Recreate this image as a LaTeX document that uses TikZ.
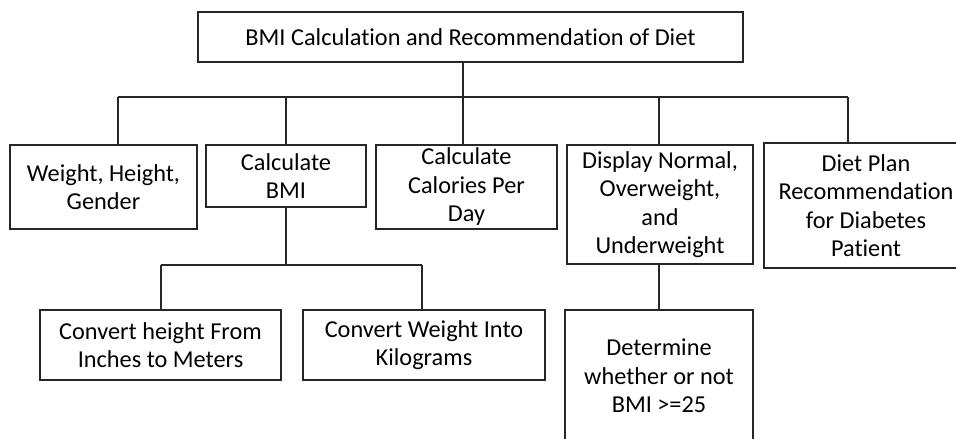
\documentclass[tikz,border=0pt]{standalone}
\usepackage{fontspec}
\setmainfont{Carlito}[Ligatures={NoCommon,NoContextual}]
\begin{document}
\begin{tikzpicture}[x=1pt,y=-1pt,
  box/.style={draw=black!85, line width=1.6pt, inner sep=0pt, align=center,
    font=\fontsize{24.3}{28.5}\selectfont, text=black},
  openbox/.style={box, draw=none},
  link/.style={draw=black!85, line width=1.6pt}]
\useasboundingbox (0,0) rectangle (956,439);
\node[box, minimum width=545pt, minimum height=50pt] (top) at (470.5,37) {BMI Calculation and Recommendation of Diet};
\node[box, minimum width=187pt, minimum height=84pt] (b1) at (103.5,187) {Weight, Height,\\Gender};
\node[box, minimum width=160pt, minimum height=62pt] (b2) at (286,176) {Calculate\\BMI};
\node[box, minimum width=181pt, minimum height=84pt] (b3) at (466.5,187) {Calculate\\Calories Per\\Day};
\node[box, minimum width=186pt, minimum height=119pt] (b4) at (660,204.5) {Display Normal,\\Overweight,\\and\\Underweight};
\node[openbox, minimum width=202pt, minimum height=123pt] (b5) at (866,205.5) {Diet Plan\\Recommendation\\for Diabetes\\Patient};
\path[link] ([xshift=20pt]b5.north east) -- (b5.north west) -- (b5.south west) -- ([xshift=20pt]b5.south east);
\node[box, minimum width=241pt, minimum height=70pt] (b6) at (160.5,345) {Convert height From\\Inches to Meters};
\node[box, minimum width=242pt, minimum height=70pt] (b7) at (424,345) {Convert Weight Into\\Kilograms};
\node[box, minimum width=188pt, minimum height=132pt] (b8) at (659,376) {Determine\\whether or not\\BMI >=25};
% main bus
\coordinate (busL) at (118,97);
\coordinate (busR) at (848,97);
\coordinate (d2) at (286,97);
\coordinate (d3) at (463,97);
\coordinate (d4) at (659,97);
\path[link] (busL) -- (busR);
\path[link] (top.south -| d3) -- (d3) -- (d3 |- b3.north);
\path[link] (busL) -- (busL |- b1.north);
\path[link] (d2) -- (d2 |- b2.north);
\path[link] (d4) -- (d4 |- b4.north);
\path[link] (busR) -- (busR |- b5.north);
% sub bus
\coordinate (sL) at (161,265);
\coordinate (sR) at (422,265);
\path[link] (b2.south) -- (b2.south |- sL);
\path[link] (sL) -- (sR);
\path[link] (sL) -- (sL |- b6.north);
\path[link] (sR) -- (sR |- b7.north);
\path[link] (b4.south -| d4) -- (d4 |- b8.north);
\end{tikzpicture}
\end{document}
